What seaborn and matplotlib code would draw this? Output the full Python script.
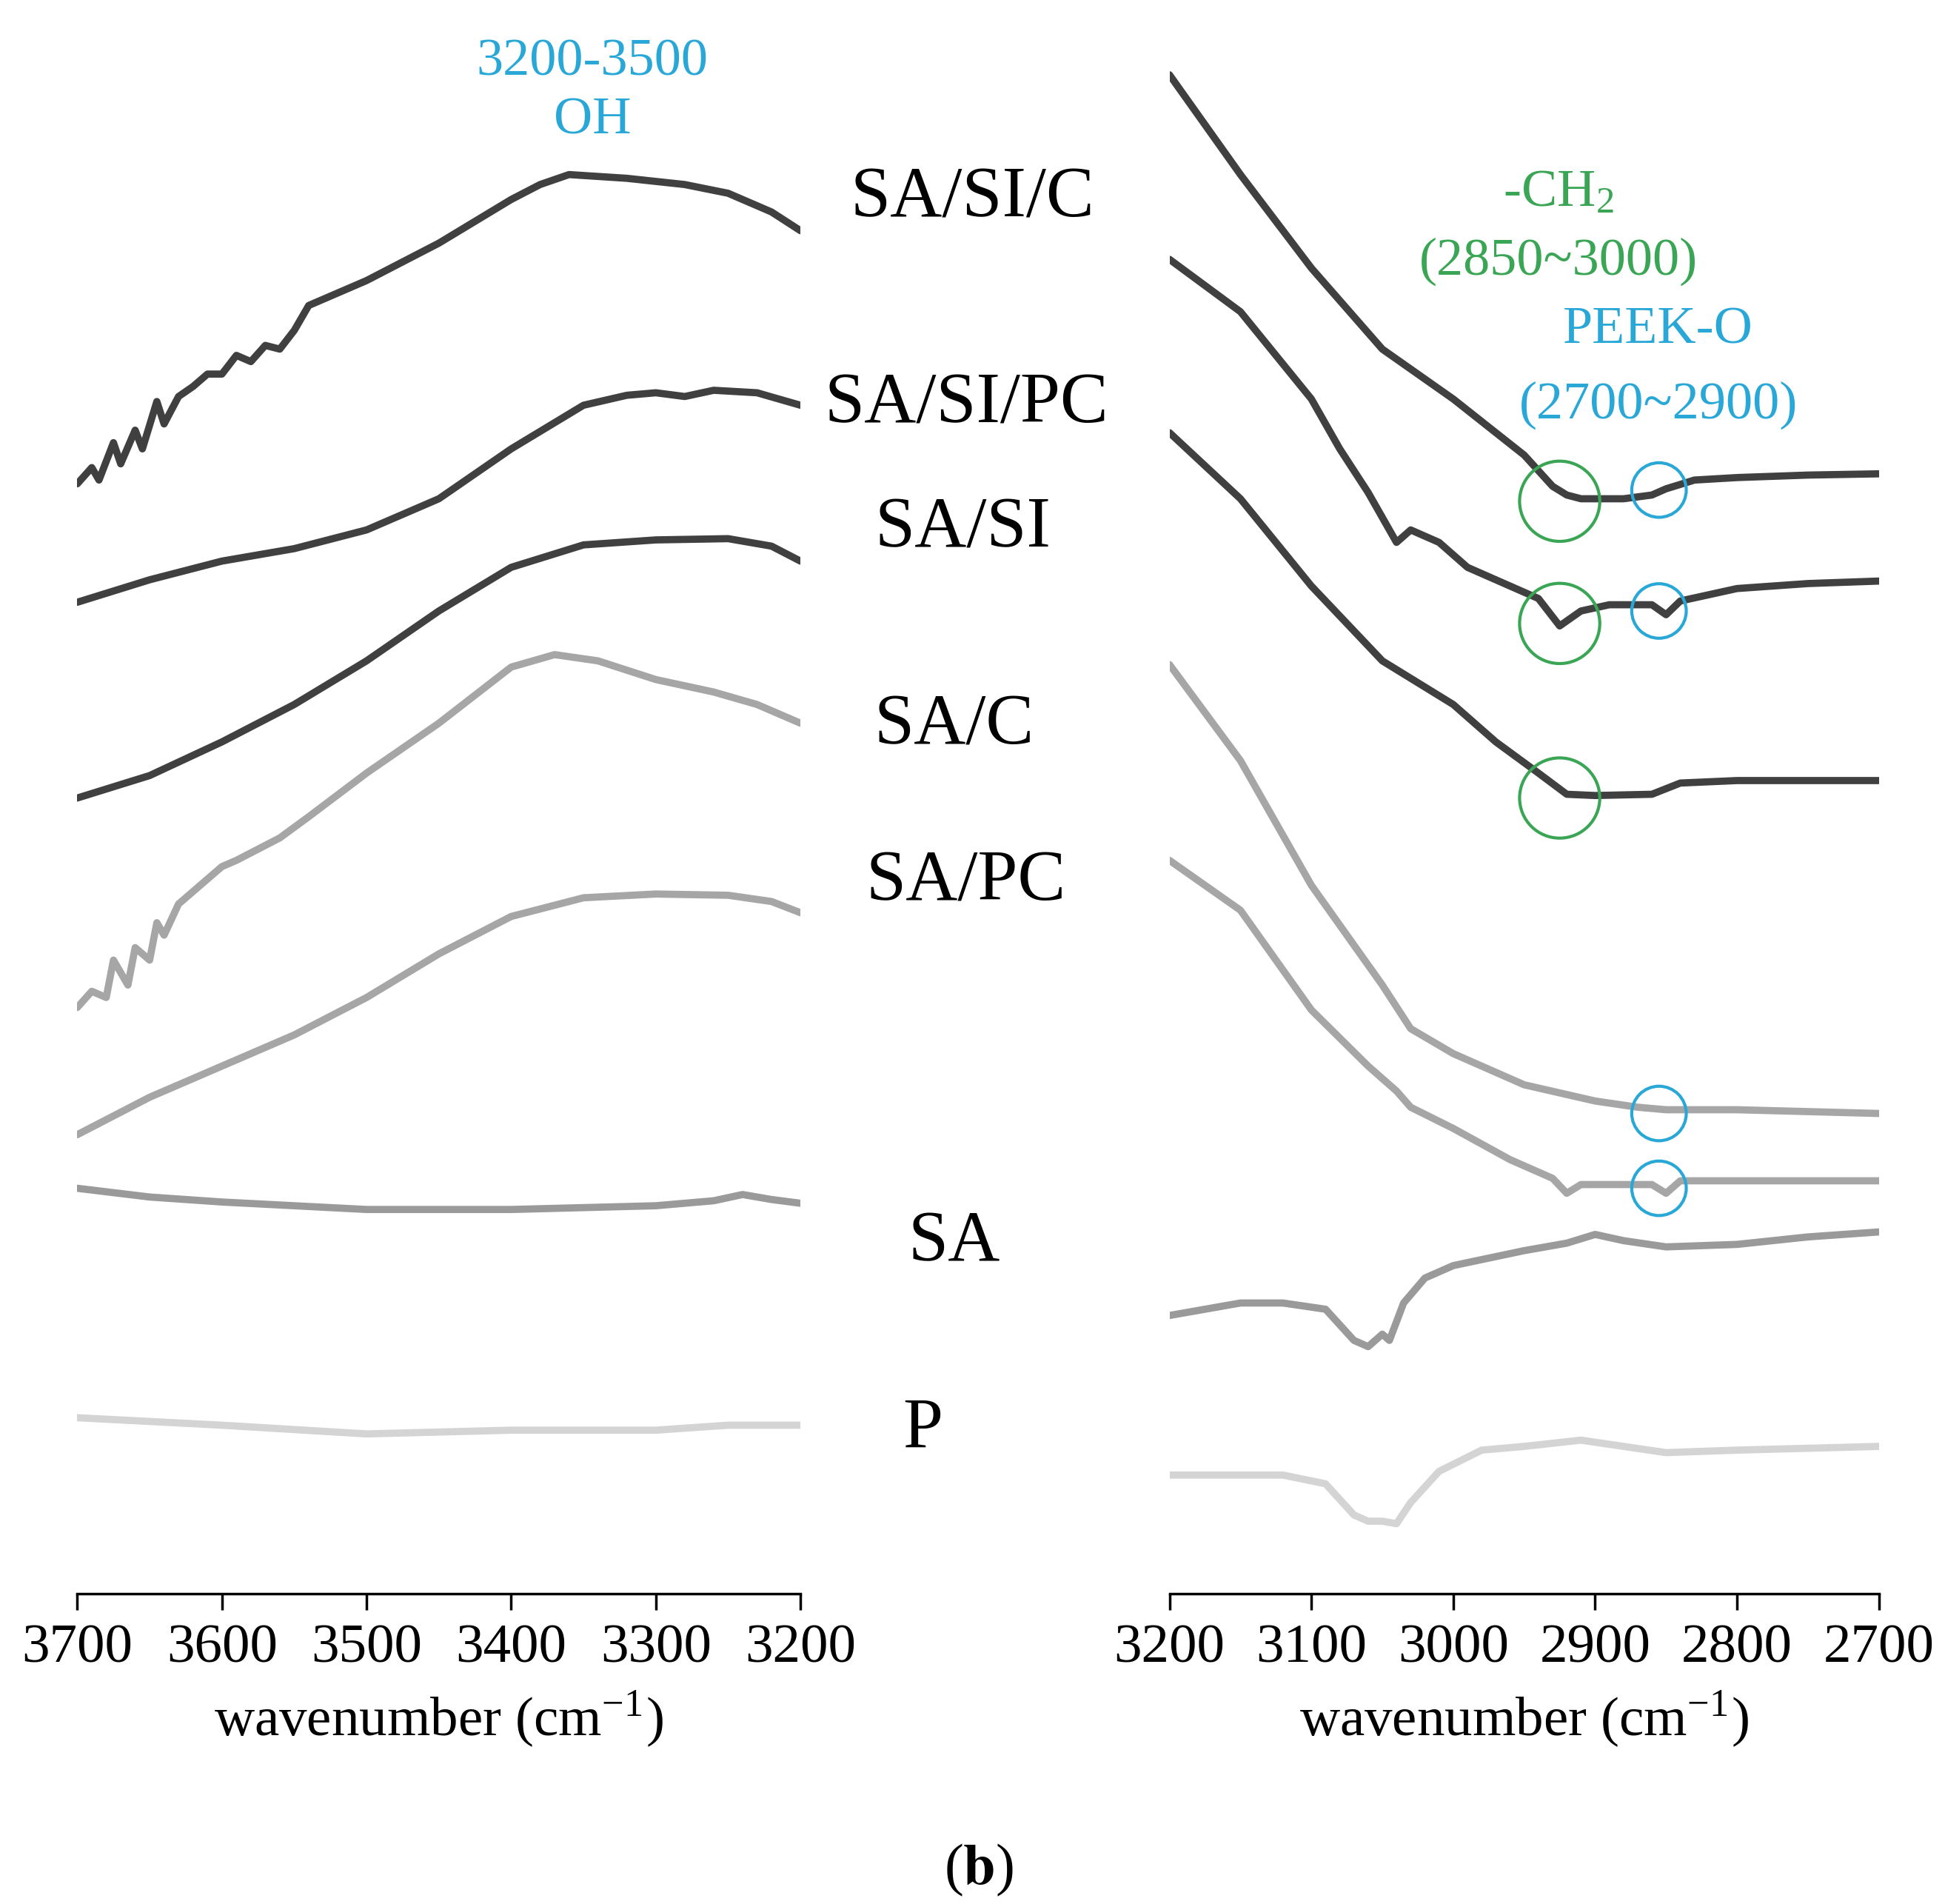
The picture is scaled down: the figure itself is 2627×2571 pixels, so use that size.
import matplotlib
matplotlib.use("Agg")
import matplotlib.pyplot as plt
import seaborn as sns
import pandas as pd

sns.set_theme(style="white")
plt.rcParams['font.family'] = ['Liberation Serif', 'DejaVu Serif']
plt.rcParams['mathtext.fontset'] = 'stix'
plt.rcParams['text.color'] = 'black'
plt.rcParams['axes.labelcolor'] = 'black'
plt.rcParams['xtick.color'] = 'black'

H = 1278  # intensity offset units

left_x = {
 "SA/SI/C": [3700,3690,3685,3675,3670,3660,3655,3645,3640,3630,3620,3610,3600,3590,3580,3570,3560,3550,3540,3500,3450,3400,3380,3360,3320,3280,3250,3220,3200],
 "SA/SI/PC": [3700,3650,3600,3550,3500,3450,3400,3350,3320,3300,3280,3260,3230,3200],
 "SA/SI": [3700,3650,3600,3550,3500,3450,3400,3350,3300,3250,3220,3200],
 "SA/C": [3700,3690,3680,3675,3665,3660,3650,3645,3640,3630,3620,3600,3590,3570,3560,3540,3500,3450,3400,3370,3340,3300,3260,3230,3200],
 "SA/PC": [3700,3650,3600,3550,3500,3450,3400,3350,3300,3250,3220,3200],
 "SA": [3700,3650,3600,3500,3400,3300,3260,3240,3220,3200],
 "P": [3700,3650,3600,3500,3400,3300,3250,3200],
}
left_y = {
 "SA/SI/C": [388,375,385,355,372,345,360,322,340,318,310,300,300,285,290,277,280,265,245,225,195,160,148,140,143,148,155,170,185],
 "SA/SI/PC": [483,465,450,440,425,400,360,325,317,315,318,313,315,325],
 "SA/SI": [640,622,595,565,530,490,455,437,433,432,438,450],
 "SA/C": [808,795,800,770,790,760,770,740,750,725,715,695,690,678,672,655,620,580,535,525,530,545,555,565,580],
 "SA/PC": [910,880,855,830,800,765,735,720,717,718,723,732],
 "SA": [953,960,964,970,970,967,963,958,962,965],
 "P": [1137,1140,1143,1150,1147,1147,1143,1143],
}
right_x = {
 "SA/SI/C": [3200,3150,3100,3050,3000,2950,2930,2920,2910,2900,2880,2860,2850,2830,2800,2750,2700],
 "SA/SI/PC": [3200,3150,3100,3080,3060,3050,3040,3030,3010,2990,2960,2940,2925,2910,2890,2860,2850,2840,2800,2750,2700],
 "SA/SI": [3200,3150,3100,3050,3000,2970,2940,2920,2900,2860,2840,2800,2700],
 "SA/C": [3200,3150,3100,3050,3030,3000,2950,2900,2870,2850,2800,2700],
 "SA/PC": [3200,3150,3100,3060,3040,3030,3000,2960,2930,2920,2910,2880,2860,2850,2840,2700],
 "SA": [3200,3150,3120,3090,3070,3060,3050,3045,3035,3020,3000,2950,2920,2900,2880,2850,2800,2750,2700],
 "P": [3200,3120,3090,3070,3060,3050,3040,3030,3010,2980,2950,2910,2880,2850,2800,2700],
}
right_y = {
 "SA/SI/C": [60,140,215,280,320,365,390,397,400,400,400,397,392,385,383,381,380],
 "SA/SI/PC": [208,250,320,360,395,415,435,425,435,455,470,480,502,490,485,485,493,482,472,468,466],
 "SA/SI": [347,400,470,530,565,595,620,637,638,637,628,626,626],
 "SA/C": [533,610,710,790,825,845,870,883,888,890,890,893],
 "SA/PC": [690,730,810,855,875,888,905,930,945,957,950,950,950,957,947,947],
 "SA": [1055,1045,1045,1050,1075,1080,1070,1075,1045,1025,1015,1003,997,990,995,1000,998,992,988],
 "P": [1183,1183,1190,1215,1220,1220,1222,1205,1180,1163,1160,1155,1160,1165,1163,1160],
}
colors = {"SA/SI/C": "#404040", "SA/SI/PC": "#404040", "SA/SI": "#404040",
          "SA/C": "#a6a6a6", "SA/PC": "#a6a6a6", "SA": "#9a9a9a", "P": "#d4d4d4"}
labels = ["SA/SI/C", "SA/SI/PC", "SA/SI", "SA/C", "SA/PC", "SA", "P"]
label_pos = [(780,160), (775,325), (772,425), (765,583), (775,708), (765,997), (740,1147)]
ticks_left = [3700,3600,3500,3400,3300,3200]
ticks_right = [3200,3100,3000,2900,2800,2700]
green_circles = [(2925, 402), (2925, 500), (2925, 640)]
blue_circles = [(2855, 393), (2855, 490), (2855, 893), (2855, 953)]

W, HH = 1560, 1527
fig = plt.figure(figsize=(26.27, 25.71), dpi=100)
axL = fig.add_axes([62/W, 1-1278/HH, 580/W, 1278/HH])
axR = fig.add_axes([938/W, 1-1278/HH, 569/W, 1278/HH])

def draw(ax, xs, ys, xlim, ticks):
    for k in labels:
        df = pd.DataFrame({"x": xs[k], "y": [H - v for v in ys[k]]})
        sns.lineplot(data=df, x="x", y="y", ax=ax, color=colors[k], lw=7, sort=False, estimator=None)
    ax.set_xlim(*xlim)
    ax.set_ylim(0, H)
    ax.set_yticks([])
    ax.set_xticks(ticks)
    ax.set_xticklabels([str(t) for t in ticks], fontsize=54)
    for s in ["top", "right", "left"]:
        ax.spines[s].set_visible(False)
    ax.spines["bottom"].set_color("black")
    ax.spines["bottom"].set_linewidth(2.5)
    ax.tick_params(axis="x", direction="out", length=16, width=2.5, bottom=True, pad=14, colors="black")
    ax.set_xlabel("wavenumber (cm$^{\\mathregular{-1}}$)", fontsize=54, labelpad=14, color="black")
    ax.set_ylabel("")

draw(axL, left_x, left_y, (3700, 3200), ticks_left)
draw(axR, right_x, right_y, (3200, 2700), ticks_right)

for (gx, gy) in green_circles:
    axR.scatter([gx], [H - gy], s=78**2, facecolors="none", edgecolors="#3aa655", linewidths=3, zorder=5)
for (bx, by) in blue_circles:
    axR.scatter([bx], [H - by], s=53**2, facecolors="none", edgecolors="#29a8d8", linewidths=3, zorder=5)

for lab, (px, py) in zip(labels, label_pos):
    fig.text(px/W, 1-py/HH, lab, fontsize=70, ha="center", va="center", color="black")

blue = "#29a8d8"; green = "#3aa655"
fig.text(475/W, 1-50/HH, "3200-3500", fontsize=52, ha="center", va="center", color=blue)
fig.text(475/W, 1-97/HH, "OH", fontsize=52, ha="center", va="center", color=blue)
fig.text(1250/W, 1-155/HH, "-CH$_{\\mathregular{2}}$", fontsize=52, ha="center", va="center", color=green)
fig.text(1250/W, 1-210/HH, "(2850~3000)", fontsize=52, ha="center", va="center", color=green)
fig.text(1330/W, 1-265/HH, "PEEK-O", fontsize=52, ha="center", va="center", color=blue)
fig.text(1330/W, 1-325/HH, "(2700~2900)", fontsize=52, ha="center", va="center", color=blue)
fig.text(785/W, 1-1500/HH, "($\\mathbf{b}$)", fontsize=56, ha="center", va="center", color="black")

fig.savefig("out.png", dpi=100, facecolor="white")
